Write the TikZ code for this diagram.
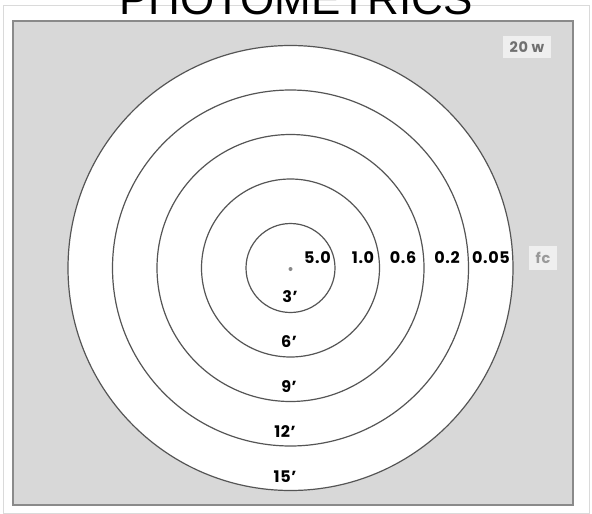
\documentclass[tikz,border=0pt]{standalone}
\usepackage{fontspec}
\setmainfont{Poppins}
\newfontfamily\titlefont{Liberation Sans}
\definecolor{framec}{HTML}{DADADA}
\definecolor{panel}{HTML}{D8D8D8}
\definecolor{panelc}{HTML}{8A8A8A}
\definecolor{ringc}{HTML}{555555}
\definecolor{dotc}{HTML}{888888}
\definecolor{tagbg}{HTML}{EFEFEF}
\definecolor{tagtx}{HTML}{707070}
\definecolor{tagtxl}{HTML}{9A9A9A}
\begin{document}
\begin{tikzpicture}[x=1pt,y=-1pt,
  ring/.style={circle, draw=ringc, line width=1.2pt, fill=white, inner sep=0pt},
  val/.style={font=\fontsize{16}{16}\selectfont\bfseries\addfontfeature{LetterSpace=4}, inner sep=0pt},
  tag/.style={fill=tagbg, font=\fontsize{14.5}{15}\selectfont\bfseries\addfontfeature{LetterSpace=4}, inner xsep=7pt, inner ysep=6pt},
  titlestyle/.style={font=\titlefont\fontsize{44}{44}\selectfont, inner sep=0pt, anchor=base}]
\useasboundingbox (0,0) rectangle (592,514);
\draw[draw=framec, line width=0.8pt] (3,5) rectangle (589,513);
\begin{scope}
\clip (0,0) rectangle (592,514);
\node[titlestyle] (title) at (296,15) {PHOTOMETRICS};
\end{scope}
\draw[fill=panel, draw=panelc, line width=1.3pt] (13,21) rectangle (573,505);
\foreach \r/\n in {222.5/5, 178/4, 133.5/3, 89/2, 44.5/1}
  \node[ring, minimum size=2*\r pt] (c\n) at (290.5,268) {};
\fill[dotc] (290.5,269) circle (2);
\node[val] (v1) at (317.5,258) {5.0};
\node[val] (v2) at (363,258) {1.0};
\node[val] (v3) at (403,258) {0.6};
\node[val] (v4) at (447,258) {0.2};
\node[val] (v5) at (491,258) {0.05};
\node[tag, text=tagtxl] (fc) at (543,258) {fc};
\node[tag, text=tagtx] (watt) at (527,47) {20 w};
\node[val] (d1) at (290,297) {3’};
\node[val] (d2) at (289,342) {6’};
\node[val] (d3) at (289,387) {9’};
\node[val] (d4) at (285,432) {12’};
\node[val] (d5) at (285,477) {15’};
\end{tikzpicture}
\end{document}
